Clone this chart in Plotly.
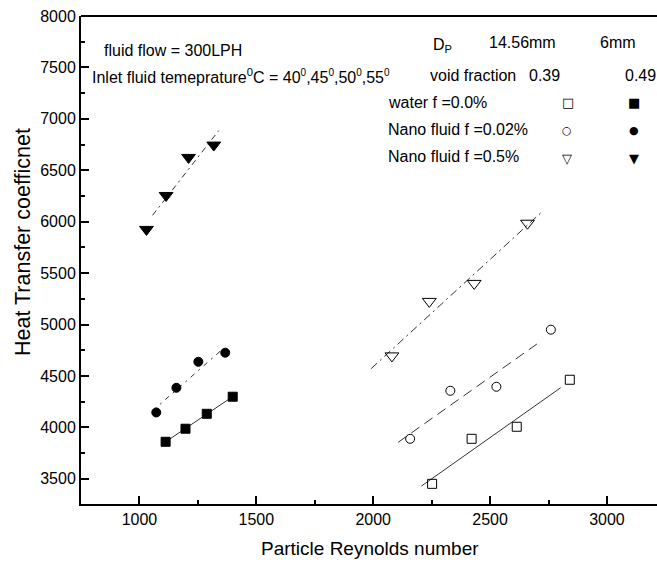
import numpy as np
import plotly.graph_objects as go

# ---------------- data ----------------
# D_P = 6 mm (filled symbols)
re_water_6 = [1112, 1197, 1288, 1399]
h_water_6 = [3860, 3987, 4132, 4298]
re_nano002_6 = [1072, 1158, 1252, 1367]
h_nano002_6 = [4145, 4385, 4638, 4726]
re_nano05_6 = [1030, 1114, 1210, 1318]
h_nano05_6 = [5925, 6255, 6625, 6745]

# D_P = 14.56 mm (open symbols)
re_water_14 = [2252, 2421, 2614, 2841]
h_water_14 = [3451, 3889, 4006, 4463]
re_nano002_14 = [2158, 2330, 2527, 2760]
h_nano002_14 = [3889, 4356, 4395, 4950]
re_nano05_14 = [2080, 2240, 2432, 2660]
h_nano05_14 = [4695, 5225, 5400, 5985]

# x extents of the fitted lines
fit_water_6 = [1103, 1390]
fit_nano002_6 = [1056, 1356]
fit_nano05_6 = [1056, 1339]
fit_water_14 = [2206, 2802]
fit_nano002_14 = [2107, 2708]
fit_nano05_14 = [1991, 2721]

x_ticks = [1000, 1500, 2000, 2500, 3000]
y_ticks = [3500, 4000, 4500, 5000, 5500, 6000, 6500, 7000, 7500, 8000]

# ---------------- layout geometry ----------------
W, H = 657, 563
ML, MR, MT = 81, 0, 16
MB = H - 504
PW, PH = W - ML - MR, H - MT - MB
X_PER_PX = 2464 / 576
XR = [750, 750 + PW * X_PER_PX]
YR = [3255, 8000]
FONT = "Liberation Sans, Arial, sans-serif"
LINE_C = "#333333"


def px(xp):
    return (xp - ML) / PW


def py(yp):
    return (H - MB - yp) / PH


fig = go.Figure()

series = [
    (re_water_6, h_water_6, fit_water_6, "square", "solid"),
    (re_nano002_6, h_nano002_6, fit_nano002_6, "circle", "5px,5px,2px,5px"),
    (re_nano05_6, h_nano05_6, fit_nano05_6, "triangle-down", "6px,4px,2px,4px"),
    (re_water_14, h_water_14, fit_water_14, "square-open", "solid"),
    (re_nano002_14, h_nano002_14, fit_nano002_14, "circle-open", "10px,6px"),
    (re_nano05_14, h_nano05_14, fit_nano05_14, "triangle-down-open", "8px,4px,2px,4px"),
]

for xs, ys, fx, sym, dash in series:
    k, b = np.polyfit(xs, ys, 1)
    lx = np.array(fx, dtype=float)
    fig.add_trace(go.Scatter(
        x=lx, y=k * lx + b, mode="lines",
        line=dict(color=LINE_C, width=1, dash=dash),
        showlegend=False, hoverinfo="skip"))
    msize = 12 if "triangle" in sym else 9
    fig.add_trace(go.Scatter(
        x=xs, y=ys, mode="markers",
        marker=dict(symbol=sym, size=msize, color="black",
                    line=dict(color="black", width=1)),
        showlegend=False))

ann = []


def text(s, x, y, size=16, xanchor="left", angle=0):
    ann.append(dict(text=s, x=px(x), y=py(y), xref="paper", yref="paper",
                    xanchor=xanchor, yanchor="middle", showarrow=False, textangle=angle,
                    font=dict(family=FONT, size=size, color="black")))


sm = '<sup><span style="font-size:10px">0</span></sup>'
text("fluid flow = 300LPH", 102, 50, size=16)
text("Inlet fluid temeprature<sup>0</sup>C = 40" + sm + ",45" + sm + ",50" + sm + ",55" + sm, 90, 76, size=16)
text("D<sub>P</sub>", 431, 45, size=16)
text("14.56mm", 487, 42)
text("6mm", 598, 42)
text("void fraction", 428, 75)
text("0.39", 527, 75)
text("0.49", 623, 75)
text("water f =0.0%", 386, 102)
text("Nano fluid f =0.02%", 386, 129)
text("Nano fluid f =0.5%", 386, 156)

# axis titles
text("Particle Reynolds number", 370, 548, size=19, xanchor="center")
text("Heat Transfer coefficnet", 23, 242, size=21.5, xanchor="center", angle=-90)

sym_font = "DejaVu Sans, sans-serif"
for s, x, y, size in [("□", 568, 102, 13), ("■", 634, 102, 13),
                      ("○", 567, 130, 11), ("●", 634, 130, 11),
                      ("▽", 567, 158, 13), ("▼", 634, 158, 13)]:
    ann.append(dict(text=s, x=px(x), y=py(y), xref="paper", yref="paper",
                    xanchor="center", yanchor="middle", showarrow=False,
                    font=dict(family=sym_font, size=size, color="black")))

fig.update_layout(
    width=W, height=H,
    margin=dict(l=ML, r=MR, t=MT, b=MB, pad=0, autoexpand=False),
    paper_bgcolor="white", plot_bgcolor="white",
    annotations=ann,
    shapes=[dict(type="line", xref="paper", yref="paper", x0=0, x1=1, y0=1, y1=1,
                 line=dict(color="black", width=2))],
    font=dict(family=FONT, color="black"),
)

fig.update_xaxes(
    range=XR, tickvals=x_ticks, ticktext=[str(v) for v in x_ticks],
    showgrid=False, zeroline=False, showline=True, linecolor="black", linewidth=2,
    ticks="inside", ticklen=8, tickwidth=1.5, tickcolor="black", automargin=False,
    ticklabeloverflow="allow",
    minor=dict(dtick=250, ticks="inside", ticklen=4, tickwidth=1.5, tickcolor="black", showgrid=False),
    tickfont=dict(family=FONT, size=16, color="black"),
)
fig.update_yaxes(
    range=YR, tickvals=y_ticks, ticktext=[str(v) for v in y_ticks],
    showgrid=False, zeroline=False, showline=True, linecolor="black", linewidth=2,
    ticks="inside", ticklen=8, tickwidth=1.5, tickcolor="black", automargin=False,
    ticklabeloverflow="allow",
    minor=dict(dtick=250, tick0=3250, ticks="inside", ticklen=4, tickwidth=1.5, tickcolor="black", showgrid=False),
    tickfont=dict(family=FONT, size=16, color="black"),
)

fig.write_html(
    "out.html",
    config={"displayModeBar": False},
    post_script="document.body.style.margin='0';document.body.style.overflow='hidden';",
)
